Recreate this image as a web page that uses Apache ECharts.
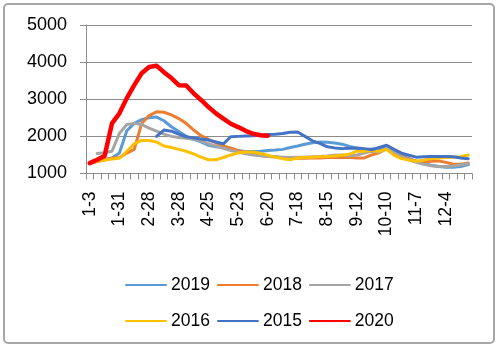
<!DOCTYPE html>
<html>
<head>
<meta charset="utf-8">
<script src="https://cdn.jsdelivr.net/npm/echarts@6/dist/echarts.min.js"></script>
<style>
html,body{margin:0;padding:0;background:#fff;}
#chart{width:498px;height:348px;position:absolute;left:0;top:0;}
#frame{position:absolute;left:3px;top:3px;width:488px;height:337px;border:2px solid #a6a6a6;border-radius:5px;pointer-events:none;}
</style>
</head>
<body>
<div id="chart"></div>
<div id="frame"></div>
<script>
// weekly categories (week start dates)
const weeks = ['1-3','1-10','1-17','1-24','1-31','2-7','2-14','2-21','2-28','3-7','3-14','3-21','3-28','4-4','4-11','4-18','4-25','5-2','5-9','5-16','5-23','5-30','6-6','6-13','6-20','6-27','7-4','7-11','7-18','7-25','8-1','8-8','8-15','8-22','8-29','9-5','9-12','9-19','9-26','10-3','10-10','10-17','10-24','10-31','11-7','11-14','11-21','11-28','12-4','12-11','12-18','12-25'];

const s2019 = [1280,1320,1370,1420,1550,2150,2350,2450,2500,2520,2420,2260,2130,2000,1920,1850,1760,1720,1700,1680,1610,1590,1590,1600,1620,1630,1650,1700,1740,1790,1830,1850,1840,1820,1790,1730,1680,1640,1660,1660,1680,1560,1490,1400,1330,1280,1220,1190,1170,1170,1190,1240];
const s2018 = [1280,1330,1370,1410,1430,1550,1650,2350,2560,2660,2650,2580,2480,2350,2170,2020,1920,1830,1740,1680,1620,1560,1520,1490,1460,1450,1420,1410,1420,1410,1420,1420,1430,1430,1440,1430,1420,1420,1500,1560,1670,1560,1460,1390,1330,1310,1330,1340,1300,1250,1250,1280];
const s2017 = [null,1540,1560,1600,2080,2320,2350,2320,2220,2140,2060,2000,1970,1950,1920,1880,1800,1740,1680,1620,1580,1530,1500,1480,1460,1450,1440,1430,1440,1440,1450,1460,1470,1490,1500,1480,1500,1550,1600,1580,1700,1560,1450,1370,1300,1250,1210,1190,1190,1200,1230,1270];
const s2016 = [1280,1320,1360,1390,1410,1600,1800,1890,1890,1850,1740,1700,1650,1600,1530,1440,1370,1370,1430,1500,1550,1580,1580,1540,1490,1440,1400,1370,1420,1440,1440,1450,1460,1470,1490,1520,1600,1600,1620,1600,1650,1490,1400,1360,1330,1360,1400,1420,1430,1440,1450,1500];
const s2015 = [null,null,null,null,null,null,null,null,null,2000,2170,2140,2060,1990,1960,1930,1900,1850,1800,1990,2000,2010,2020,2030,2050,2060,2080,2110,2120,2000,1880,1810,1720,1690,1670,1680,1690,1670,1640,1700,1760,1650,1550,1490,1440,1450,1460,1460,1460,1450,1420,1400];
const s2020 = [1280,1370,1470,2350,2620,3030,3380,3700,3870,3900,3730,3570,3380,3370,3160,2980,2790,2620,2480,2340,2250,2150,2070,2030,2020];

const yTicks = [1000,2000,3000,4000,5000];

const names = ['2019','2018','2017','2016','2015','2020'];
const colors = ['#5B9BD5','#ED7D31','#A5A5A5','#FFC000','#4472C4','#FF0000'];
const datas = [s2019,s2018,s2017,s2016,s2015,s2020];
const widths = [3,3,3,3,3,4.5];

const chart = echarts.init(document.getElementById('chart'), null, {renderer:'canvas'});
const font = '"Liberation Sans", Arial, sans-serif';
const legendCommon = {left:120,itemWidth:40,itemHeight:2,itemGap:7,
  textStyle:{color:'#000',fontSize:17.5,fontFamily:font}};
chart.setOption({
  animation:false,
  backgroundColor:'#fff',
  grid:{left:86,right:26,top:25,bottom:174.5,containLabel:false},
  xAxis:{
    type:'category',data:weeks,boundaryGap:true,
    axisLine:{show:true,lineStyle:{color:'#8c8c8c',width:1}},
    axisTick:{show:true,interval:0,length:6,lineStyle:{color:'#8c8c8c'}},
    axisLabel:{interval:3,rotate:90,margin:18,color:'#000',fontSize:17.5,fontFamily:font},
    splitLine:{show:false}
  },
  yAxis:{
    type:'value',min:yTicks[0],max:yTicks[yTicks.length-1],interval:1000,
    axisLine:{show:true,lineStyle:{color:'#8c8c8c',width:1}},
    axisTick:{show:true,length:6,lineStyle:{color:'#8c8c8c'}},
    axisLabel:{margin:19,color:'#000',fontSize:18,fontFamily:font,formatter:v=>String(v)},
    splitLine:{show:true,lineStyle:{color:'#8c8c8c',width:1}}
  },
  legend:[
    Object.assign({data:names.slice(0,3),top:271},legendCommon),
    Object.assign({data:names.slice(3),top:307},legendCommon)
  ],
  series:names.map((n,k)=>({
    name:n,type:'line',data:datas[k],symbol:'none',showSymbol:false,
    connectNulls:false,
    lineStyle:{color:colors[k],width:widths[k],join:'round',cap:'round'},
    itemStyle:{color:colors[k]},
    z:k===5?5:2
  }))
});
</script>
</body>
</html>
